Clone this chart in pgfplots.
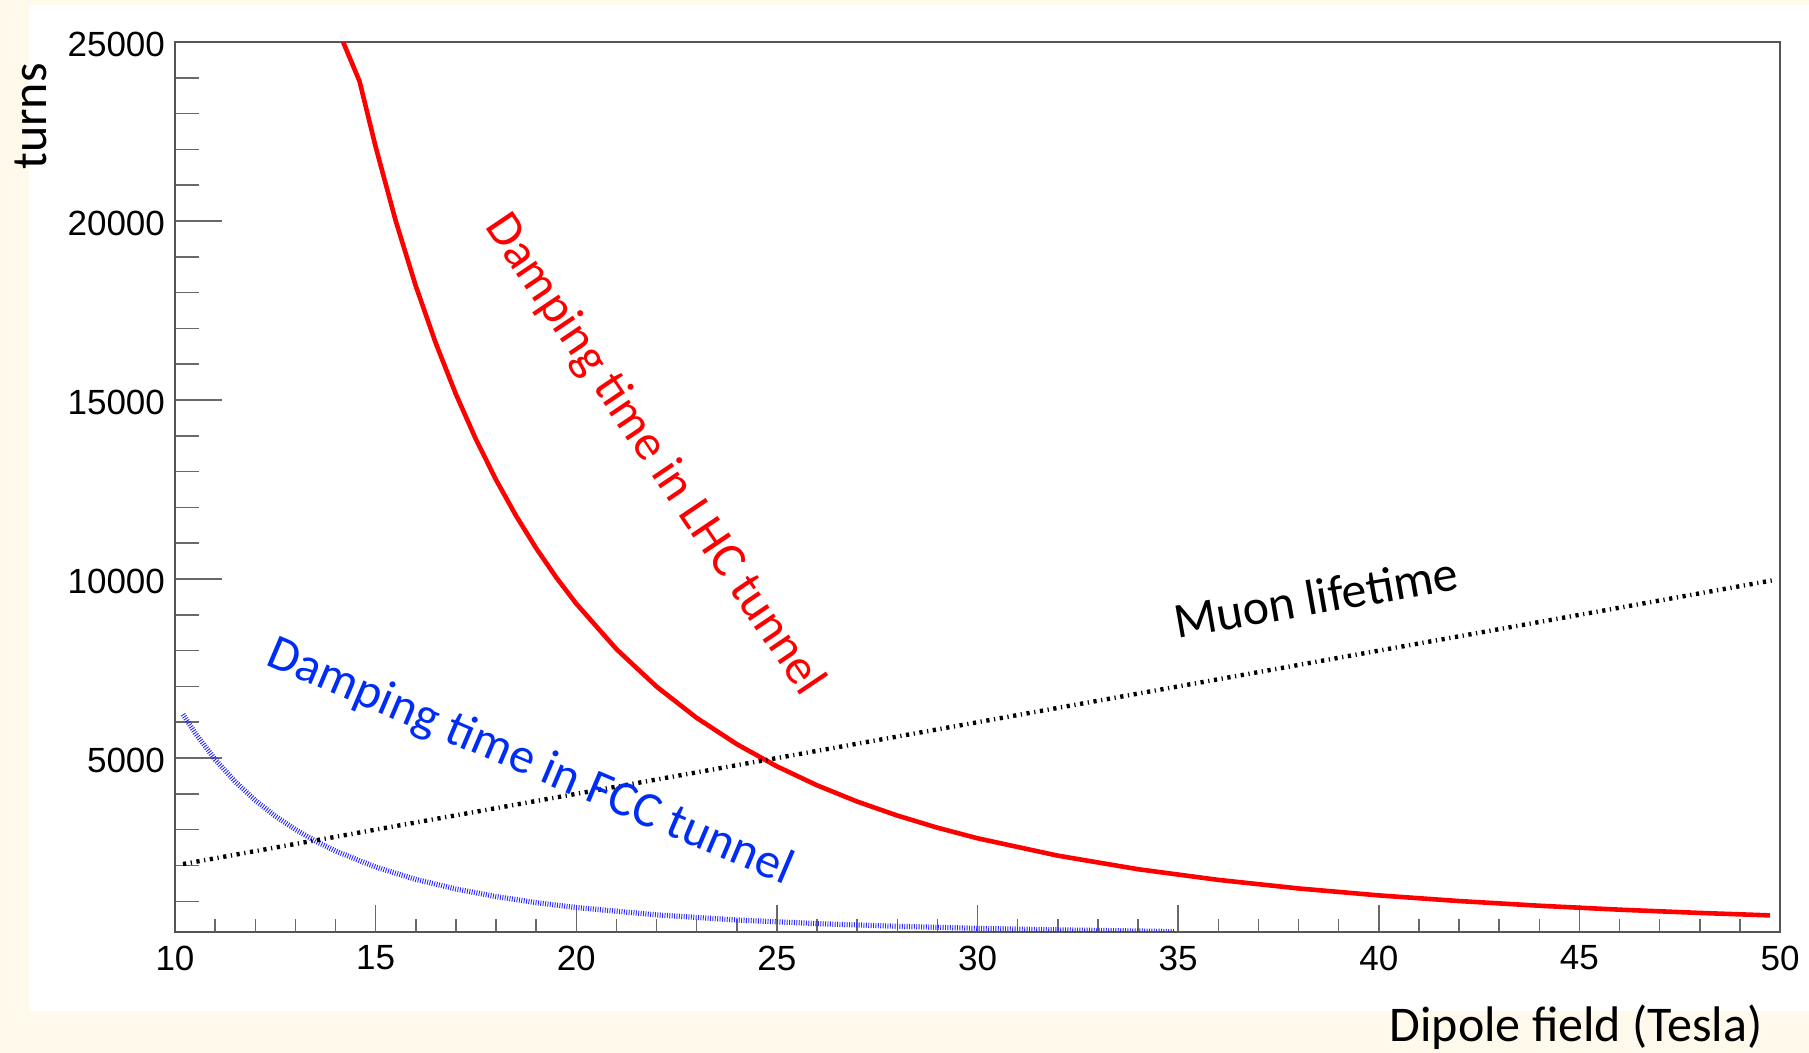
\documentclass[border=0pt]{standalone}
\usepackage{fontspec}
\setmainfont{Carlito}
\newfontfamily\ticfont{Liberation Sans}
\usepackage{pgfplots}
\pgfplotsset{compat=1.18}
\definecolor{cream}{RGB}{254,249,234}
\definecolor{axgray}{RGB}{85,85,85}
\definecolor{tickgray}{RGB}{105,105,105}
\definecolor{lblblue}{RGB}{0,45,245}
\definecolor{fccblue}{RGB}{40,40,255}
\begin{document}
\begin{tikzpicture}[x=1pt,y=1pt]
\fill[cream] (0,0) rectangle (904.5,526.5);
\fill[white] (14.5,21) rectangle (904.5,524);
\useasboundingbox (0,0) rectangle (904.5,526.5);
\begin{axis}[
  at={(87.5pt,60.65pt)}, anchor=south west,
  width=802.5pt, height=444.85pt, scale only axis,
  xmin=10, xmax=50, ymin=150, ymax=25000,
  xtick={10,15,...,50}, minor x tick num=4,
  ytick={5000,10000,15000,20000,25000},
  minor ytick={1000,2000,3000,4000,6000,7000,8000,9000,11000,12000,13000,14000,16000,17000,18000,19000,21000,22000,23000,24000},
  tick pos=left, tick align=inside,
  axis line style={axgray, line width=1pt},
  tick style={tickgray, line width=0.75pt},
  xtick style={/pgfplots/major tick length=13.5pt, /pgfplots/minor tick length=6.5pt},
  ytick style={/pgfplots/major tick length=23.5pt, /pgfplots/minor tick length=12pt},
  /pgf/number format/assume math mode=true,
  /pgf/number format/1000 sep={},
  tick label style={font=\ticfont\fontsize{17.5}{20}\selectfont},
  xticklabel style={yshift=-3.5pt},
  yticklabel style={xshift=-1.5pt, yshift=-1pt},
  scaled y ticks=false,
]
\addplot[red, line width=2.3pt, line join=round] coordinates {
(14.19,25000) (14.6,23900) (15,22074) (15.5,20006) (16,18188) (16.5,16585) (17,15164)
(17.5,13901) (18,12774) (18.5,11766) (19,10862) (19.5,10047) (20,9312) (21,8044)
(22,6997) (23,6123) (24,5389) (25,4768) (26,4239) (27,3785) (28,3394) (29,3055)
(30,2759) (32,2274) (34,1895) (36,1597) (38,1358) (40,1164) (42,1006) (44,875)
(46,765) (48,674) (49.75,605)};
\addplot[fccblue, line width=2.6pt, dash pattern=on 0.45pt off 0.75pt] coordinates {
(10.2,6219) (10.5,5701) (11,4959) (11.5,4340) (12,3819) (12.5,3379) (13,3004)
(13.5,2682) (14,2405) (15,1956) (16,1611) (17,1343) (18,1132) (19,962) (20,825)
(22,620) (24,477) (26,376) (28,301) (30,244) (32,201) (34.9,155)};
\addplot[black, line width=2.2pt, dash pattern=on 1.6pt off 2.3pt on 0.6pt off 2.3pt] coordinates {
(10.2,2040) (49.8,9960)};
\end{axis}
\node[rotate=-56, red, font=\fontsize{25}{30}\selectfont] at (327,299) {Damping time in LHC tunnel};
\node[rotate=-23, lblblue, font=\fontsize{25}{30}\selectfont] at (265,145) {Damping time in FCC tunnel};
\node[rotate=10, black, font=\fontsize{25}{30}\selectfont] at (658,228) {Muon lifetime};
\node[anchor=base east, font=\fontsize{25}{30}\selectfont, inner sep=0pt] at (881.5,5.5) {Dipole field (Tesla)};
\node[anchor=base east, rotate=90, font=\fontsize{25}{30}\selectfont, inner sep=0pt] at (23.5,495) {turns};
\end{tikzpicture}
\end{document}
